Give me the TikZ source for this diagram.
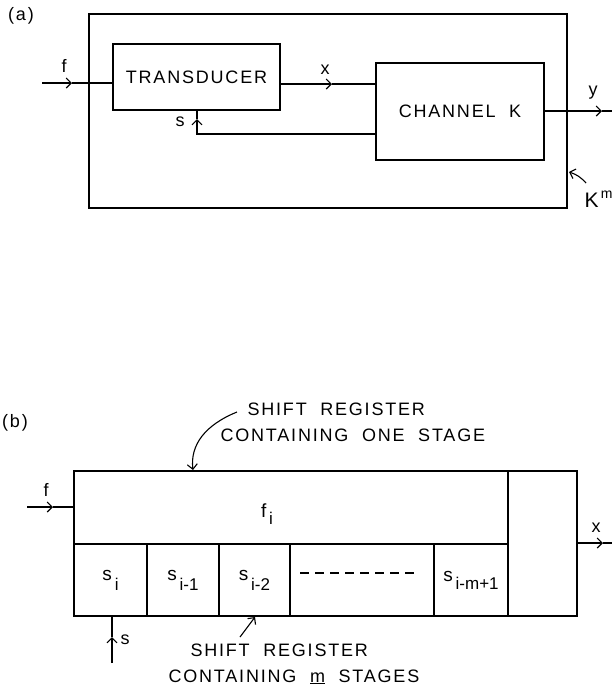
\documentclass[tikz,border=0pt]{standalone}
\usepackage{fontspec}
\setmainfont{Liberation Sans}
\newfontfamily\capsfont{Liberation Sans}[LetterSpace=10,WordSpace=2]
\usetikzlibrary{arrows.meta,calc}
\newcommand{\lowsub}[3]{#1\raisebox{-#3}{\fontsize{17}{17}\selectfont\,#2}}
\begin{document}
\begin{tikzpicture}[x=1pt,y=-1pt,line width=1.1pt,
  box/.style={draw,rectangle,inner sep=0pt,outer sep=0pt,anchor=north west},
  caps/.style={font=\capsfont\fontsize{18}{26}\selectfont},
  lab/.style={font=\fontsize{18}{18}\selectfont,inner sep=0pt},
  cell/.style={box,font=\fontsize{19}{19}\selectfont,minimum height=72},
  barb/.style={-{Straight Barb[length=5pt,width=10pt]}},
]
\useasboundingbox (0,0) rectangle (612,689);

% ---------- (a) ----------
\node[inner sep=0pt,font=\capsfont\fontsize{18}{18}\selectfont] (alab) at (21,16) {(a)};
\node[box,minimum width=478,minimum height=194] (outer) at (89,14) {};
\node[box,caps,minimum width=167,minimum height=66] (trans) at (113,44) {TRANSDUCER};
\node[box,caps,minimum width=168,minimum height=97] (chan) at (376,63) {CHANNEL K};

% f input
\coordinate (fin) at (42,83);
\coordinate (fa) at (72,83);
\draw[barb] (fin) -- (fa);
\draw (fa) -- (fa -| trans.west);
\node[lab] (flab) at (64,66) {f};

% x
\coordinate (xa) at (332,84);
\draw[barb] (trans.east |- xa) -- (xa);
\draw (xa) -- (xa -| chan.west);
\node[lab] (xlab) at (325,70) {x};

% y output
\coordinate (ya) at (602,111);
\coordinate (yout) at (612,111);
\draw[barb] (chan.east |- ya) -- (ya);
\draw (ya) -- (yout);
\node[lab] (ylab) at (593,93) {y};

% feedback s
\coordinate (sfb) at (197,134);
\coordinate (sa) at (197,119);
\draw[barb] (chan.west |- sfb) -- (sfb) -- (sa);
\draw (sa) -- (sa |- trans.south);
\node[lab] (slab) at (180,122) {s};

% K^m
\coordinate (ktail) at (586,183);
\coordinate (ktip) at (569,172);
\draw[barb] (ktail) to[bend right=15] (ktip);
\node[font=\fontsize{21}{21}\selectfont,inner sep=0pt,anchor=west] (klab) at (584,199) {K\raisebox{9pt}{\fontsize{14}{14}\selectfont\,m}};

% ---------- (b) ----------
\node[inner sep=0pt,font=\capsfont\fontsize{18}{18}\selectfont] (blab) at (15,423) {(b)};
\node[box,minimum width=434,minimum height=73] (fcell) at (74,471) {};
\node[box,minimum width=69,minimum height=145] (ocell) at (508,471) {};
\node[cell,minimum width=73] (c0) at (74,544) {\lowsub{s}{i}{10pt}};
\node[cell,minimum width=72] (c1) at (147,544) {\lowsub{s}{i-1}{10pt}};
\node[cell,minimum width=71] (c2) at (219,544) {\lowsub{s}{i-2}{10pt}};
\node[cell,minimum width=144] (cd) at (290,544) {};
\node[cell,minimum width=74] (cm) at (434,544) {\lowsub{s}{i-m+1}{8pt}};
\node[font=\fontsize{19}{19}\selectfont,inner sep=0pt] (fil) at (267,514) {\lowsub{f}{i}{7pt}};

\coordinate (d1) at (300,573);
\coordinate (d2) at (416,573);
\draw[dash pattern=on 9pt off 6pt] (d1) -- (d2);

% f input
\coordinate (bfin) at (27,507);
\coordinate (bfa) at (53,507);
\draw[barb] (bfin) -- (bfa);
\draw (bfa) -- (bfa -| fcell.west);
\node[lab] (bflab) at (46,490) {f};

% x output
\coordinate (bxa) at (603,543);
\coordinate (bxout) at (612,543);
\draw[barb] (ocell.east |- bxa) -- (bxa);
\draw (bxa) -- (bxout);
\node[lab] (bxlab) at (596,528) {x};

% s input
\coordinate (bsin) at (112,663);
\coordinate (bsa) at (112,637);
\draw[barb] (bsin) -- (bsa);
\draw (bsa) -- (bsa |- c0.south);
\node[lab] (bslab) at (125,640) {s};

% annotations
\node[caps,align=left,anchor=north west,inner sep=0pt] (ann1) at (220,402) {\hspace*{27pt}SHIFT REGISTER\\CONTAINING ONE STAGE};
\coordinate (a1tail) at (237,412);
\coordinate (a1tip) at (193,470);
\draw[barb] (a1tail) .. controls (205,425) and (190,445) .. (a1tip);

\node[caps,align=left,anchor=north west,inner sep=0pt] (ann2) at (168,643) {\hspace*{22pt}SHIFT REGISTER\\CONTAINING \underline{m} STAGES};
\coordinate (a2tail) at (240,637);
\coordinate (a2tip) at (255,617);
\draw[barb] (a2tail) -- (a2tip);
\end{tikzpicture}
\end{document}
